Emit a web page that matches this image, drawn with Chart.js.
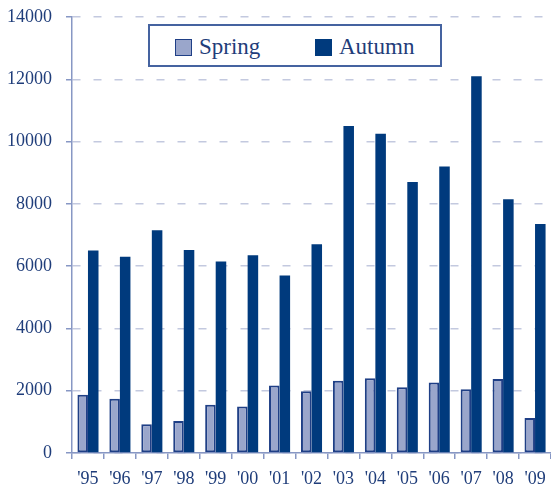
<!DOCTYPE html>
<html>
<head>
<meta charset="utf-8">
<script src="https://cdn.jsdelivr.net/npm/chart.js@4/dist/chart.umd.min.js"></script>
<style>
    body { margin: 0; background: #fff; }
    #wrap { position: relative; width: 551px; height: 487px; }
    #legend {
        position: absolute; left: 148px; top: 24px; width: 290px; height: 39px;
        border: 2px solid #4563a0; background: #fff;
        font-family: "Liberation Serif", "Times New Roman", serif; font-size: 23px; color: #1f3d7a;
    }
    .item { position: absolute; top: 8px; display: flex; align-items: center; }
    .box { width: 15px; height: 15px; margin-right: 7px; }
</style>
</head>
<body>
<div id="wrap">
    <canvas id="chart"></canvas>
    <div id="legend"></div>
</div>
<script>
const years = ["'95", "'96", "'97", "'98", "'99", "'00", "'01", "'02", "'03", "'04", "'05", "'06", "'07", "'08", "'09"];
const spring = [1870, 1740, 920, 1030, 1550, 1490, 2170, 1980, 2320, 2400, 2110, 2260, 2050, 2380, 1120];
const autumn = [6500, 6300, 7150, 6520, 6150, 6350, 5700, 6700, 10500, 10250, 8700, 9200, 12100, 8150, 7350];
const yTicks = [0, 2000, 4000, 6000, 8000, 10000, 12000, 14000];

const ink = "#1f3d7a";
const axisColor = "#8797c4";
const font = { family: "'Liberation Serif', 'Times New Roman', serif", size: 18 };

const ctx = document.getElementById("chart").getContext("2d");
const chart = new Chart(ctx, {
    type: "bar",
    data: {
        labels: years,
        datasets: [
            {
                label: "Spring",
                data: spring,
                backgroundColor: "#9aa6cb",
                borderColor: "#1f3f86",
                borderWidth: 2,
                borderSkipped: false
            },
            {
                label: "Autumn",
                data: autumn,
                backgroundColor: "#003a7d",
                borderColor: "#003a7d",
                borderWidth: 0
            }
        ]
    },
    options: {
        responsive: true,
        maintainAspectRatio: false,
        animation: false,
        layout: { padding: { top: 17, right: 0, left: 0, bottom: 0 } },
        datasets: { bar: { categoryPercentage: 0.66, barPercentage: 1 } },
        plugins: { legend: { display: false }, tooltip: { enabled: false } },
        scales: {
            x: {
                grid: { drawOnChartArea: false, tickLength: 6, color: axisColor, lineWidth: 1.5 },
                border: { color: axisColor, width: 1.5 },
                ticks: { color: ink, font: font, padding: 9, maxRotation: 0 },
                afterFit: (axis) => { axis.height = 34; axis.paddingLeft = 0; axis.paddingRight = 0; }
            },
            y: {
                min: 0,
                max: 14000,
                afterBuildTicks: (axis) => { axis.ticks = yTicks.map(v => ({ value: v })); },
                grid: { color: "#c3c9df", lineWidth: 1.5, tickLength: 6, tickColor: axisColor },
                border: { color: axisColor, width: 1.5, dash: [8, 13] },
                ticks: { color: ink, font: font, padding: 14, callback: (v) => String(v) },
                afterFit: (axis) => { axis.width = 72; axis.paddingTop = 0; axis.paddingBottom = 0; }
            }
        }
    }
});

// legend built from the datasets
const legend = document.getElementById("legend");
const positions = [25, 165];
chart.data.datasets.forEach((ds, i) => {
    const item = document.createElement("div");
    item.className = "item";
    item.style.left = positions[i] + "px";
    const box = document.createElement("span");
    box.className = "box";
    box.style.background = ds.backgroundColor;
    box.style.border = "1.5px solid " + (i === 0 ? "#1f3f86" : "#003a7d");
    item.appendChild(box);
    item.appendChild(document.createTextNode(ds.label));
    legend.appendChild(item);
});
</script>
</body>
</html>
